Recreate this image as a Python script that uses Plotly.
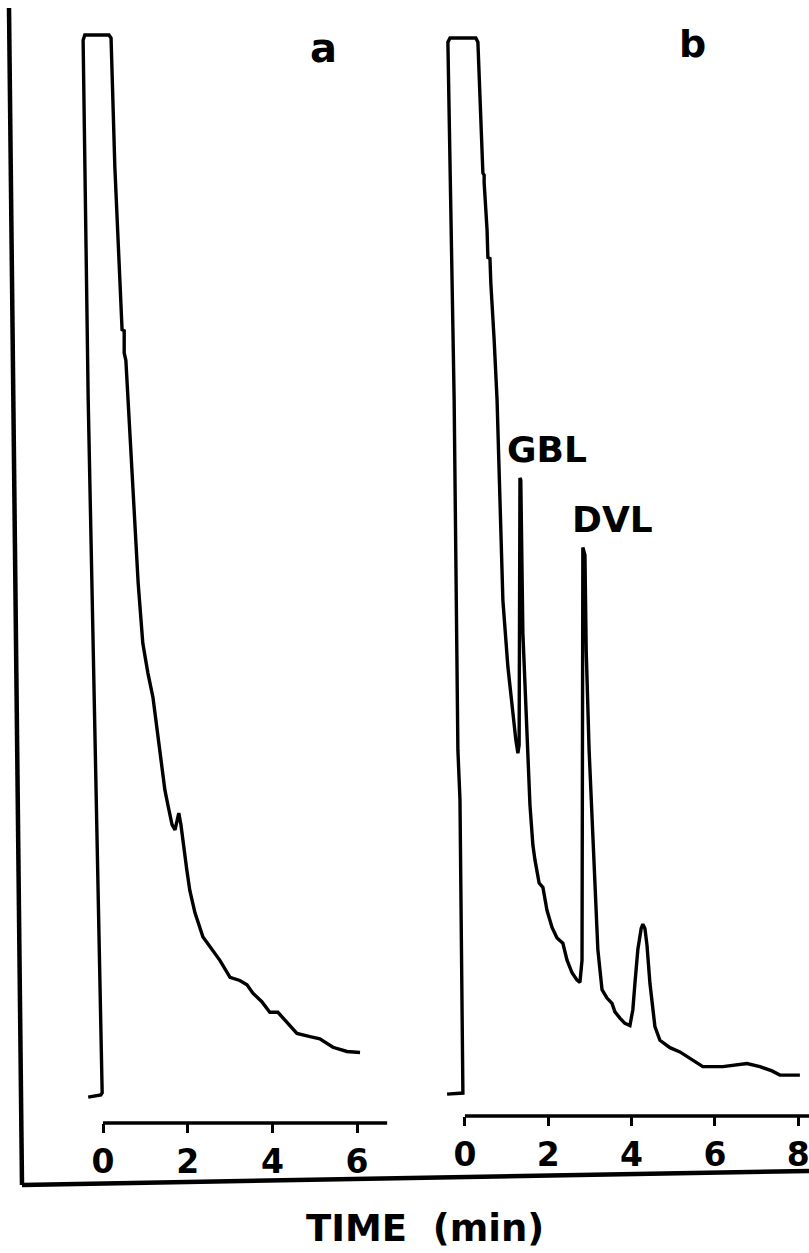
import plotly.graph_objects as go

# ---- Chromatogram a (time in min, detector response in % of full scale) ----
time_a = [-0.35, -0.05, -0.02, -0.19, -0.35, -0.47, -0.43, 0.14, 0.19, 0.28, 0.38, 0.45,
          0.50, 0.50, 0.54, 0.59, 0.64, 0.71, 0.76, 0.83, 0.94, 1.06, 1.18, 1.35, 1.46,
          1.53, 1.63, 1.70, 1.75, 1.79, 1.84, 1.89, 1.98, 2.05, 2.17, 2.36, 2.57, 2.76,
          3.00, 3.23, 3.40, 3.54, 3.75, 3.94, 4.13, 4.34, 4.58, 4.89, 5.12, 5.43, 5.76, 6.07]
resp_a = [-0.2, 0.0, 0.2, 32.5, 65.6, 99.5, 100.0, 100.0, 99.7, 87.5, 78.1, 72.2,
          72.1, 70.0, 69.3, 65.6, 62.5, 58.0, 53.0, 48.3, 42.6, 39.8, 37.5, 32.5, 28.8,
          27.4, 25.5, 25.0, 25.8, 26.6, 25.5, 23.8, 21.2, 19.3, 17.2, 14.9, 13.7, 12.7,
          11.1, 10.8, 10.4, 9.6, 8.8, 7.8, 7.8, 6.9, 5.8, 5.5, 5.3, 4.5, 4.1, 4.0]

# ---- Chromatogram b ----
time_b = [-0.43, -0.05, -0.12, -0.17, -0.26, -0.34, -0.41, -0.36, 0.26, 0.31, 0.43, 0.46,
          0.46, 0.53, 0.55, 0.60, 0.62, 0.70, 0.77, 0.84, 0.91, 1.03, 1.15, 1.22, 1.27,
          1.30, 1.32, 1.34, 1.39, 1.49, 1.56, 1.63, 1.68, 1.78, 1.87, 1.97, 2.09, 2.21,
          2.35, 2.45, 2.57, 2.69, 2.76, 2.81, 2.81, 2.83, 2.88, 2.91, 2.98, 3.05, 3.12,
          3.19, 3.29, 3.41, 3.53, 3.60, 3.72, 3.84, 3.96, 4.03, 4.08, 4.15, 4.23, 4.27,
          4.32, 4.37, 4.44, 4.56, 4.68, 4.92, 5.16, 5.40, 5.71, 6.19, 6.43, 6.77, 7.08,
          7.37, 7.56, 8.04]
resp_b = [-0.1, 0.0, 27.8, 32.5, 65.7, 84.6, 99.6, 100.0, 100.0, 99.6, 87.2, 87.0,
          86.3, 81.8, 79.2, 79.1, 76.8, 71.4, 65.7, 56.2, 46.7, 40.4, 35.6, 33.5, 32.2,
          33.0, 58.3, 58.1, 43.6, 33.5, 27.3, 23.5, 22.1, 19.9, 19.5, 17.3, 15.7, 14.7,
          14.2, 12.6, 11.4, 10.7, 10.5, 12.6, 37.3, 51.7, 51.0, 42.0, 32.5, 26.2, 19.9,
          13.6, 9.8, 9.0, 8.5, 7.7, 7.1, 6.6, 6.4, 7.9, 10.4, 13.6, 15.6, 16.0,
          15.6, 14.0, 10.4, 6.3, 5.0, 4.3, 3.9, 3.3, 2.5, 2.5, 2.6, 2.8, 2.5,
          2.1, 1.7, 1.7]

ticks_a = [0, 2, 4, 6]
ticks_b = [0, 2, 4, 6, 8]
axis_end_a = 6.71
axis_end_b = 8.5
panel_labels = ["a", "b"]
peak_labels = ["GBL", "DVL"]
x_title = "TIME\u00a0\u00a0(min)"

W, H = 809, 1253
BOLD = dict(family="DejaVu Sans", color="black", weight="bold")

fig = go.Figure()
fig.add_trace(go.Scatter(x=time_a, y=resp_a, mode="lines", xaxis="x", yaxis="y",
                         line=dict(color="black", width=3.4), showlegend=False))
fig.add_trace(go.Scatter(x=time_b, y=resp_b, mode="lines", xaxis="x2", yaxis="y2",
                         line=dict(color="black", width=3.4), showlegend=False))

xcommon = dict(showgrid=False, zeroline=False, showline=False, ticks="outside",
               ticklen=9, tickwidth=3, tickcolor="black",
               tickfont=dict(size=33, **BOLD), ticklabelstandoff=0,
               ticklabeloverflow="allow", fixedrange=True)
ycommon = dict(visible=False, showgrid=False, zeroline=False, fixedrange=True)

fig.update_layout(
    width=W, height=H,
    margin=dict(l=0, r=0, t=0, b=0),
    paper_bgcolor="white", plot_bgcolor="white",
    xaxis=dict(domain=[0.0952, 0.4944], range=[-0.614, 7.013], anchor="y",
               tickvals=ticks_a, **xcommon),
    yaxis=dict(domain=[0.1038, 1.0], range=[-2.64, 103.3], anchor="x", **ycommon),
    xaxis2=dict(domain=[0.5451, 1.0], range=[-0.576, 8.259], anchor="y2",
                tickvals=ticks_b, **xcommon),
    yaxis2=dict(domain=[0.1093, 1.0], range=[-2.18, 103.6], anchor="x2", **ycommon),
)

shapes = [
    # time-axis baselines (start at 0 min like the original recorder scale)
    dict(type="line", xref="x", yref="y domain", x0=0, x1=axis_end_a, y0=0, y1=0,
         line=dict(color="black", width=3.5)),
    dict(type="line", xref="x2", yref="y2 domain", x0=0, x1=axis_end_b, y0=0, y1=0,
         line=dict(color="black", width=3.5)),
    # outer frame
    dict(type="line", xref="paper", yref="paper", x0=9 / W, y0=1 - 8 / H,
         x1=22 / W, y1=1 - 1185 / H, line=dict(color="black", width=4.5)),
    dict(type="line", xref="paper", yref="paper", x0=22 / W, y0=1 - 1185 / H,
         x1=1.0, y1=1 - 1171 / H, line=dict(color="black", width=4.5)),
]
fig.update_layout(shapes=shapes)

ann = [
    dict(text=panel_labels[0], x=323 / W, y=1 - 48 / H, font=dict(size=40, **BOLD)),
    dict(text=panel_labels[1], x=692 / W, y=1 - 44 / H, font=dict(size=38, **BOLD)),
    dict(text=peak_labels[0], x=547 / W, y=1 - 449 / H, font=dict(size=36, **BOLD)),
    dict(text=peak_labels[1], x=612 / W, y=1 - 519 / H, font=dict(size=36, **BOLD)),
    dict(text=x_title, x=425 / W, y=1 - 1228 / H, font=dict(size=37, **BOLD)),
]
for a in ann:
    a.update(xref="paper", yref="paper", showarrow=False, xanchor="center", yanchor="middle")
fig.update_layout(annotations=ann)

fig.write_html("out.html")
